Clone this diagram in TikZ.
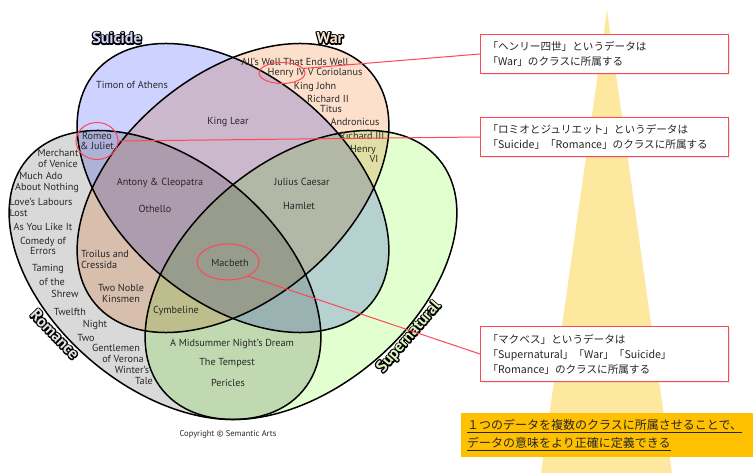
\documentclass[tikz,border=0pt]{standalone}
\usepackage{fontspec}
\setmainfont{PT Sans}
\newfontfamily\jpfont{Noto Sans CJK JP}
\usetikzlibrary{shadows,shapes.geometric}
\definecolor{suic}{RGB}{205,210,255}
\definecolor{warc}{RGB}{253,224,204}
\definecolor{romc}{RGB}{217,217,217}
\definecolor{supc}{RGB}{226,255,208}
\definecolor{callred}{RGB}{255,70,85}
\definecolor{beamc}{RGB}{254,232,160}
\definecolor{goldc}{RGB}{255,192,0}
\definecolor{playtxt}{RGB}{40,40,40}
\definecolor{lblSu}{RGB}{212,212,250}
\definecolor{lblWa}{RGB}{250,228,210}
\definecolor{lblRo}{RGB}{228,228,228}
\definecolor{lblSp}{RGB}{225,245,195}
\newcommand\strokeonly[1]{\special{pdf:code 1 Tr 0 0 0 RG 2.6 w 1 j}#1\special{pdf:code 0 Tr}}
\begin{document}
\begin{tikzpicture}[x=1pt,y=-1pt,
  play/.style={font=\fontsize{10.2}{11}\selectfont, text=playtxt, inner sep=0pt, align=center},
  setlbl/.style={font=\fontsize{16}{16}\selectfont\bfseries, inner sep=0pt},
  vline/.style={draw=black, line width=1.5pt},
  redring/.style={draw=callred, line width=1pt, ellipse, inner sep=0pt},
  redlink/.style={draw=callred, line width=1pt},
  callout/.style={draw=callred, line width=1pt, fill=white, anchor=north west,
    inner xsep=7pt, inner ysep=0pt, align=left, text width=234pt, minimum width=248pt,
    font=\jpfont\fontsize{10.6}{15}\selectfont, text=black!85,
    drop shadow={opacity=0.15, shadow xshift=1.5pt, shadow yshift=-1.5pt}}]
\useasboundingbox (0,0) rectangle (755,473);
\fill[white] (0,0) rectangle (755,473);
% spotlight beam
\fill[beamc] (607,10) -- (672,473) -- (541,473) -- cycle;
% Venn fills
\begin{scope}[rotate around={-40:(233,188)}]
  \fill[suic, blend mode=multiply] (233,188) ellipse [x radius=180, y radius=113];
\end{scope}
\begin{scope}[rotate around={40:(233,188)}]
  \fill[warc, blend mode=multiply] (233,188) ellipse [x radius=180, y radius=113];
\end{scope}
\begin{scope}[rotate around={-40:(165,275)}]
  \fill[romc, blend mode=multiply] (165,275) ellipse [x radius=180, y radius=113];
\end{scope}
\begin{scope}[rotate around={40:(301,275)}]
  \fill[supc, blend mode=multiply] (301,275) ellipse [x radius=180, y radius=113];
\end{scope}
% Venn outlines
\draw[vline, rotate around={-40:(233,188)}] (233,188) ellipse [x radius=180, y radius=113];
\draw[vline, rotate around={40:(233,188)}] (233,188) ellipse [x radius=180, y radius=113];
\draw[vline, rotate around={-40:(165,275)}] (165,275) ellipse [x radius=180, y radius=113];
\draw[vline, rotate around={40:(301,275)}] (301,275) ellipse [x radius=180, y radius=113];
% set labels: dark outline under light fill
\node[setlbl] at (117,38) {\strokeonly{Suicide}};
\node[setlbl] at (330,38) {\strokeonly{War}};
\node[setlbl, rotate=-46] at (55,334) {\strokeonly{Romance}};
\node[setlbl, rotate=49] at (409,337) {\strokeonly{Supernatural}};
\node[setlbl, text=lblSu] (lsu) at (117,38) {Suicide};
\node[setlbl, text=lblWa] (lwa) at (330,38) {War};
\node[setlbl, text=lblRo, rotate=-46] (lro) at (55,334) {Romance};
\node[setlbl, text=lblSp, rotate=49] (lsp) at (409,337) {Supernatural};
% plays
\node[play] (alls) at (295,62) {All’s Well That Ends Well};
\node[play] (henry4) at (315,73) {Henry IV V Coriolanus};
\node[play] (kjohn) at (315,87) {King John};
\node[play] (rich2) at (328,99) {Richard II};
\node[play] (titus) at (331,109) {Titus};
\node[play] (andro) at (355,122) {Andronicus};
\node[play] (rich3) at (362,136) {Richard III};
\node[play] (henry6) at (363,150) {Henry};
\node[play] (vi) at (374,159) {VI};
\node[play] (timon) at (132,85) {Timon of Athens};
\node[play] (lear) at (228,122) {King Lear};
\node[play] (romeo) at (97,141) {Romeo\\[-1pt]\& Juliet};
\node[play] (merch) at (58,158) {Merchant\\of Venice};
\node[play] (muchado) at (47,182) {\hspace*{-12pt}Much Ado\\About Nothing};
\node[play, align=left] (loves) at (41,207) {Love’s Labours\\Lost};
\node[play] (asyou) at (43,227) {As You Like It};
\node[play] (comedy) at (43,246) {Comedy of\\[-1pt]Errors};
\node[play] (taming) at (48,269) {Taming};
\node[play] (ofthe) at (52,282) {of the};
\node[play] (shrew) at (65,294) {Shrew};
\node[play] (twelfth) at (70,312) {Twelfth};
\node[play] (night) at (95,325) {Night};
\node[play] (two) at (86,338) {Two};
\node[play] (gentle) at (116,348) {Gentlemen};
\node[play] (verona) at (123,359) {of Verona};
\node[play] (winter) at (132,370) {Winter’s};
\node[play] (tale) at (144,381) {Tale};
\node[play] (antony) at (160,183) {Antony \& Cleopatra};
\node[play] (othello) at (155,209) {Othello};
\node[play] (caesar) at (302,182) {Julius Caesar};
\node[play] (hamlet) at (299,206) {Hamlet};
\node[play, align=left] (troilus) at (105,259) {Troilus and\\Cressida};
\node[play] (noble) at (121,293) {Two Noble\\Kinsmen};
\node[play] (macbeth) at (230,263) {Macbeth};
\node[play] (cymb) at (176,311) {Cymbeline};
\node[play] (dream) at (232,344) {A Midsummer Night’s Dream};
\node[play] (tempest) at (227,363) {The Tempest};
\node[play] (pericles) at (228,383) {Pericles};
\node[font=\fontsize{8.5}{8.5}\selectfont, text=playtxt, inner sep=0pt] (copy) at (228,434) {Copyright © Semantic Arts};
% red rings
\node[redring, minimum width=46pt, minimum height=21pt] (henryc) at (282,73) {};
\node[redring, minimum width=42pt, minimum height=37pt] (romeoc) at (97,141) {};
\node[redring, minimum width=62pt, minimum height=36pt] (macc) at (228,262) {};
% callouts
\node[callout, minimum height=39pt] (box1) at (480,34)
  {「ヘンリー四世」というデータは\\「War」のクラスに所属する};
\node[callout, minimum height=39pt] (box2) at (480,117)
  {「ロミオとジュリエット」というデータは\\「Suicide」「Romance」のクラスに所属する};
\node[callout, minimum height=55pt] (box3) at (480,326)
  {「マクベス」というデータは\\「Supernatural」「War」「Suicide」\\「Romance」のクラスに所属する};
\draw[redlink] (henryc.12) -- (box1.west);
\draw[redlink] (romeoc.east) -- (box2.west);
\draw[redlink] (macc.-35) -- (box3.west);
% summary box
\node[fill=goldc, anchor=north west, minimum width=292pt, minimum height=44pt,
  text width=280pt, inner xsep=6pt, inner ysep=0pt, align=left,
  font=\jpfont\fontsize{12}{18}\selectfont, text=black!85] (gbox) at (461,413)
  {\underline{１つのデータを複数のクラスに所属させることで、}\\\underline{データの意味をより正確に定義できる}};
\end{tikzpicture}
\end{document}
